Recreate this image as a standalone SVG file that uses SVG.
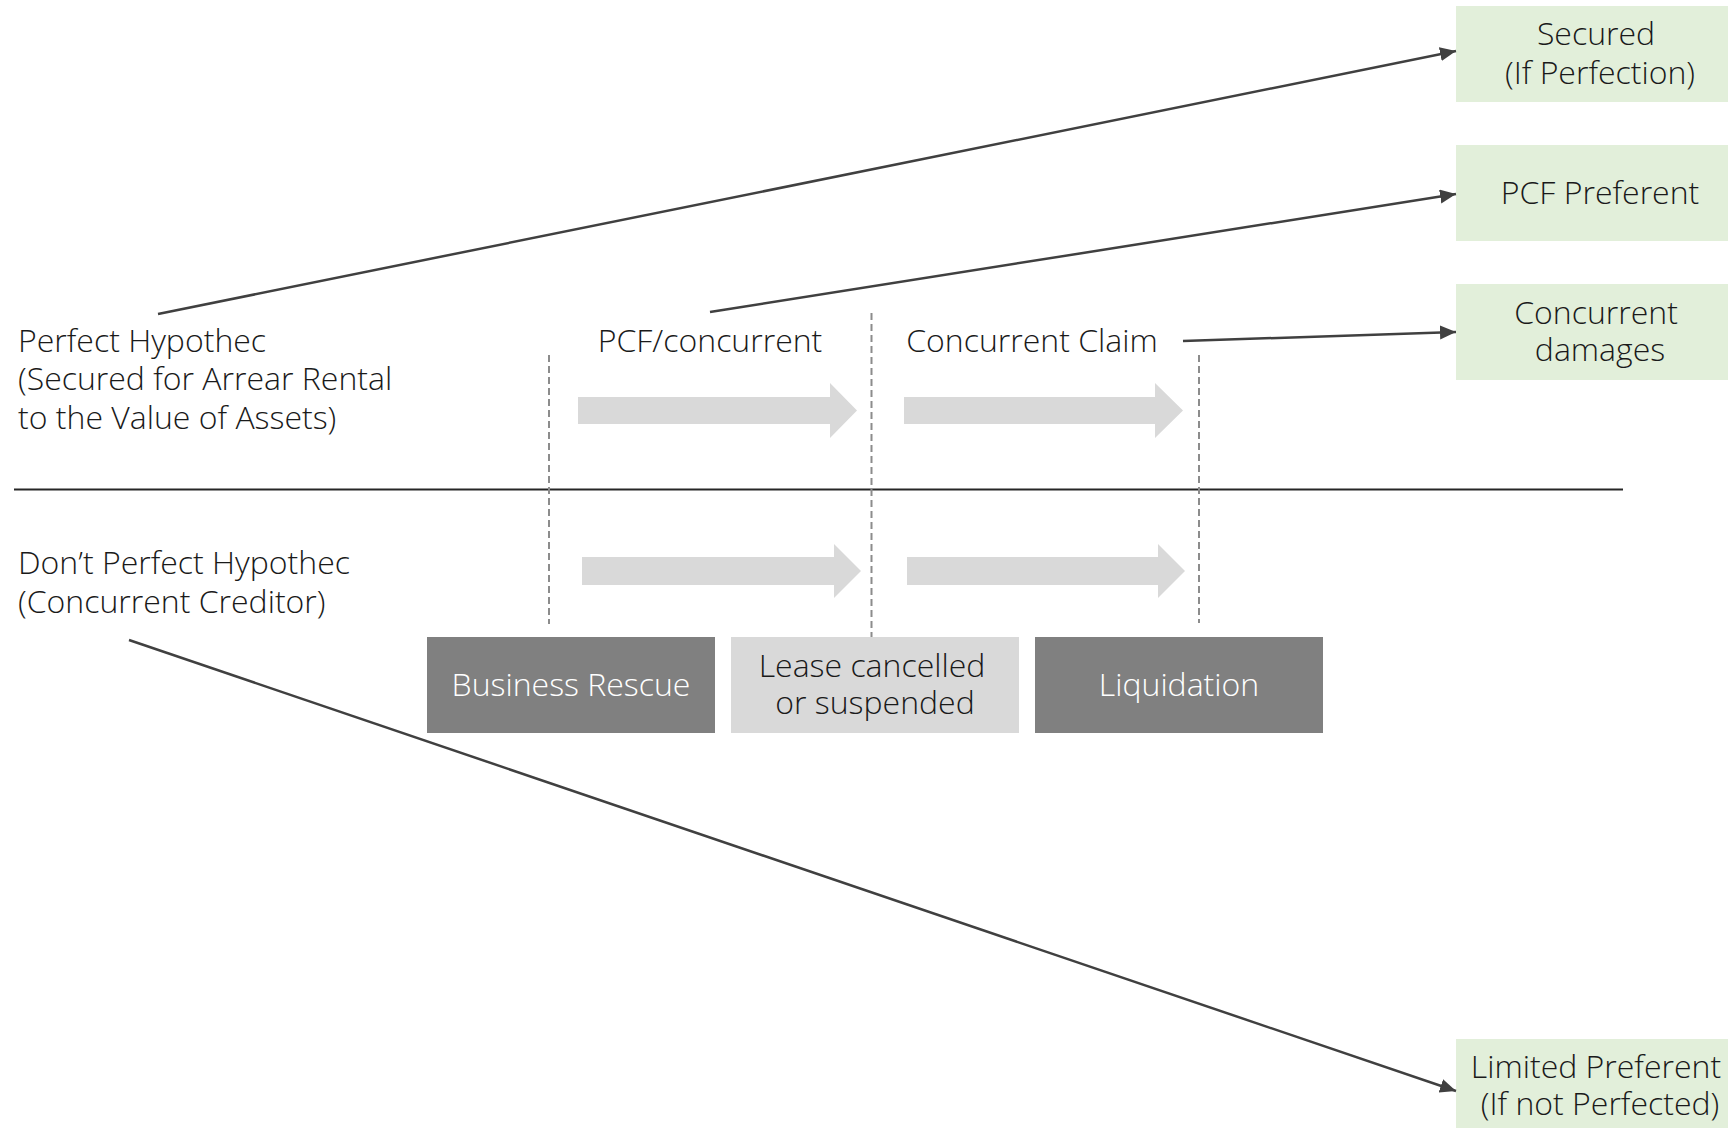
<svg xmlns="http://www.w3.org/2000/svg" width="1728" height="1128" viewBox="0 0 1728 1128">
<style>
  text { font-family: "Open Sans", "Liberation Sans", sans-serif; font-size: 32px; font-weight: 300; fill: #1a1a1a; }
  .c { text-anchor: middle; }
  .w { fill: #ffffff; }
  .green { fill: #e2efda; }
  .dark { fill: #808080; }
  .light { fill: #d9d9d9; }
  .conn { stroke: #404040; stroke-width: 2.5; fill: none; marker-end: url(#ah); }
  .dash { stroke: #8c8c8c; stroke-width: 2; stroke-dasharray: 7 4; fill: none; }
  .barrow { fill: #d9d9d9; }
</style>
<defs>
  <marker id="ah" markerUnits="userSpaceOnUse" markerWidth="18" markerHeight="16" refX="16" refY="7" orient="auto">
    <path d="M0,0 L16,7 L0,14 z" fill="#404040"/>
  </marker>
</defs>
<rect width="1728" height="1128" fill="#ffffff"/>

<g id="divider">
  <line x1="14" y1="489.5" x2="1623" y2="489.5" stroke="#262626" stroke-width="1.8"/>
</g>

<g id="phase-dividers">
  <line class="dash" x1="549" y1="355" x2="549" y2="624"/>
  <line class="dash" x1="871.5" y1="313" x2="871.5" y2="637"/>
  <line class="dash" x1="1199" y1="355" x2="1199" y2="623"/>
</g>

<g id="block-arrows">
  <polygon class="barrow" points="578,397 830,397 830,383 857,410.5 830,438 830,424 578,424"/>
  <polygon class="barrow" points="904,397 1155,397 1155,383 1183,410.5 1155,438 1155,424 904,424"/>
  <polygon class="barrow" points="582,557 834,557 834,544 861,571 834,598 834,585 582,585"/>
  <polygon class="barrow" points="907,557 1158,557 1158,544 1185,571 1158,598 1158,585 907,585"/>
</g>

<g id="perfect-hypothec">
  <text x="18" y="352">Perfect Hypothec</text>
  <text x="18" y="390">(Secured for Arrear Rental</text>
  <text x="18" y="429">to the Value of Assets)</text>
</g>

<g id="dont-perfect-hypothec">
  <text x="18" y="574">Don’t Perfect Hypothec</text>
  <text x="18" y="613">(Concurrent Creditor)</text>
</g>

<g id="pcf-concurrent">
  <text class="c" x="710" y="352">PCF/concurrent</text>
</g>

<g id="concurrent-claim">
  <text class="c" x="1032" y="352">Concurrent Claim</text>
</g>

<g id="business-rescue">
  <rect class="dark" x="427" y="637" width="288" height="96"/>
  <text class="c w" x="571" y="696">Business Rescue</text>
</g>

<g id="lease-cancelled">
  <rect class="light" x="731" y="637" width="288" height="96"/>
  <text class="c" x="872" y="677">Lease cancelled</text>
  <text class="c" x="875" y="714">or suspended</text>
</g>

<g id="liquidation">
  <rect class="dark" x="1035" y="637" width="288" height="96"/>
  <text class="c w" x="1179" y="696">Liquidation</text>
</g>

<g id="secured">
  <rect class="green" x="1456" y="6" width="272" height="96"/>
  <text class="c" x="1596" y="45">Secured</text>
  <text class="c" x="1600" y="84">(If Perfection)</text>
</g>

<g id="pcf-preferent">
  <rect class="green" x="1456" y="145" width="272" height="96"/>
  <text class="c" x="1600" y="204">PCF Preferent</text>
</g>

<g id="concurrent-damages">
  <rect class="green" x="1456" y="284" width="272" height="96"/>
  <text class="c" x="1596" y="324">Concurrent</text>
  <text class="c" x="1600" y="361">damages</text>
</g>

<g id="limited-preferent">
  <rect class="green" x="1456" y="1039" width="272" height="89"/>
  <text class="c" x="1596" y="1078">Limited Preferent</text>
  <text class="c" x="1600" y="1115">(If not Perfected)</text>
</g>

<g id="connectors">
  <line class="conn" x1="158" y1="314" x2="1456" y2="51"/>
  <line class="conn" x1="710" y1="312" x2="1456" y2="194"/>
  <line class="conn" x1="1183" y1="341" x2="1456" y2="332"/>
  <line class="conn" x1="129" y1="640" x2="1456" y2="1091"/>
</g>
</svg>
